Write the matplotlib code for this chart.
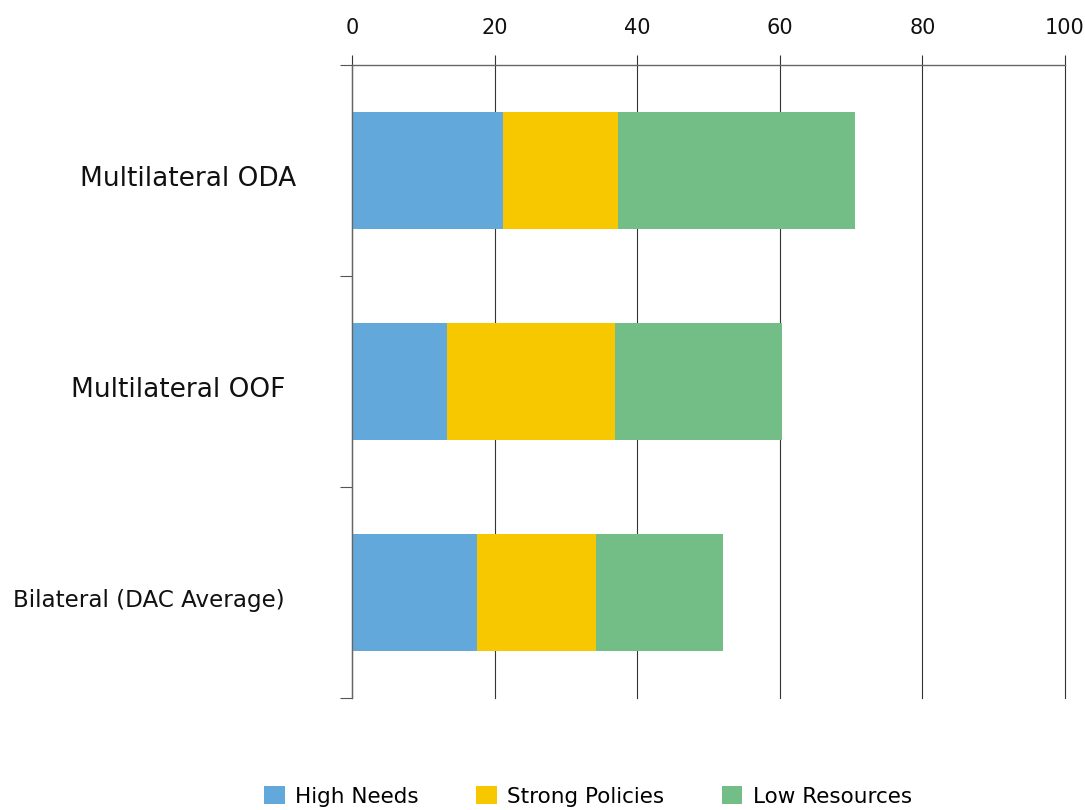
import numpy as np
import matplotlib.pyplot as plt
from matplotlib import transforms

categories = ["Multilateral ODA", "Multilateral OOF", "Bilateral (DAC Average)"]
series = ["High Needs", "Strong Policies", "Low Resources"]
high_needs = [21.2, 13.3, 17.6]
strong_policies = [16.1, 23.6, 16.6]
low_resources = [33.2, 23.4, 17.9]
x_ticks = [0, 20, 40, 60, 80, 100]

colors = ["#63A8DA", "#F7C800", "#73BE87"]
label_sizes = [19, 19, 16.6]
label_xoff = [-0.0785, -0.094, -0.094]

plt.rcParams["font.family"] = ["DejaVu Sans"]

fig = plt.figure(figsize=(10.85, 8.1), dpi=100)
ax = fig.add_axes([0.3244, 0.1383, 0.6571, 0.7815])

y = np.arange(len(categories))
left = np.zeros(len(categories))
handles = []
for vals, name, c in zip([high_needs, strong_policies, low_resources], series, colors):
    h = ax.barh(y, vals, left=left, height=0.555, color=c, label=name, zorder=2)
    handles.append(h)
    left += np.asarray(vals)

ax.set_xlim(0, 100)
ax.set_ylim(2.5, -0.5)
ax.set_xticks(x_ticks)
ax.xaxis.tick_top()
ax.tick_params(axis="x", top=True, bottom=False, length=7.2, width=0.8,
               color="#333333", labelsize=15, pad=12, labelcolor="#111111")
ax.grid(axis="x", color="#333333", linewidth=0.8, zorder=0)
ax.set_axisbelow(True)
for gl in ax.get_xgridlines():
    gl.set_clip_on(False)

# category boundaries as minor ticks on the left
ax.set_yticks([])
ax.set_yticks([-0.5, 0.5, 1.5, 2.5], minor=True)
ax.tick_params(axis="y", which="minor", length=9, width=0.8, color="#555555")

for s in ["right", "bottom"]:
    ax.spines[s].set_visible(False)
for s in ["top", "left"]:
    ax.spines[s].set_color("#666666")
    ax.spines[s].set_linewidth(1.0)

trans = transforms.blended_transform_factory(ax.transAxes, ax.transData)
for i, cat in enumerate(categories):
    ax.text(label_xoff[i], y[i] + 0.04, cat, transform=trans, ha="right", va="center",
            fontsize=label_sizes[i], color="#111111")

fig.legend(handles=handles, labels=series, loc="center", ncol=3,
           bbox_to_anchor=(0.542, 0.017), frameon=False, fontsize=15.5,
           handlelength=0.95, handleheight=0.95, columnspacing=2.65,
           handletextpad=0.5, borderpad=0.2)

fig.savefig("out.png", dpi=100)
